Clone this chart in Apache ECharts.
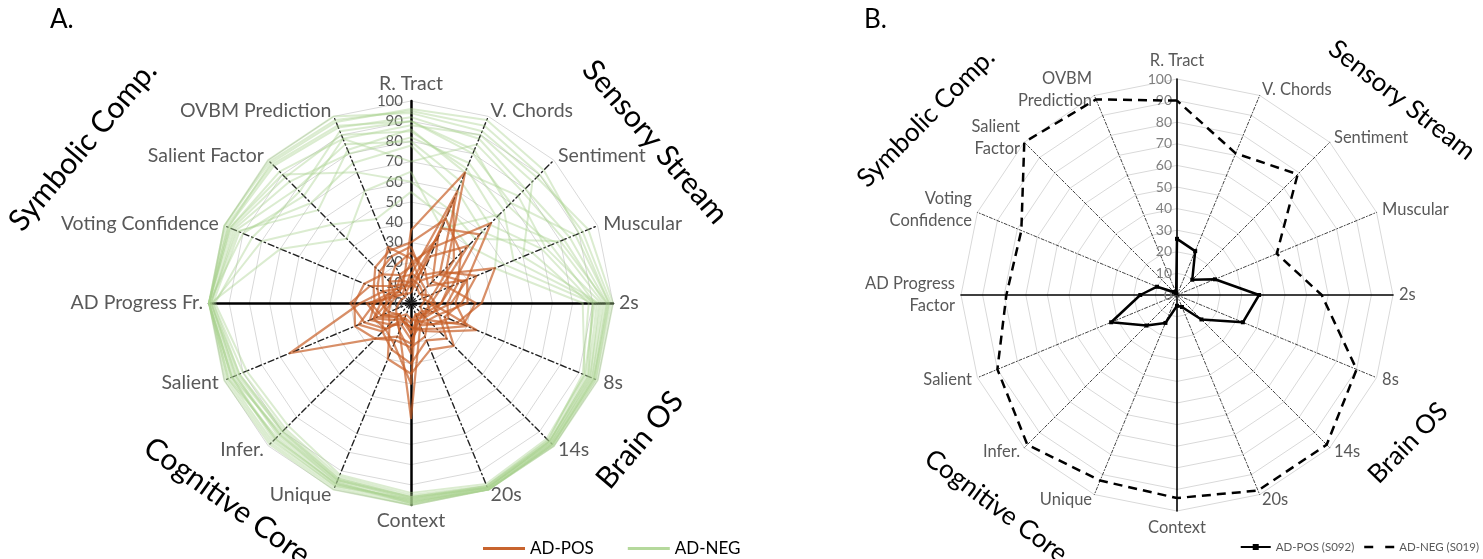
<!DOCTYPE html>
<html>
<head>
<meta charset="utf-8">
<script src="https://cdn.jsdelivr.net/npm/echarts@6/dist/echarts.min.js"></script>
<style>
  html, body { margin: 0; padding: 0; background: #fff; }
  #main { width: 1483px; height: 559px; }
</style>
</head>
<body>
<div id="main"></div>
<script>
// axes, clockwise from the top
const axesA = ['R. Tract', 'V. Chords', 'Sentiment', 'Muscular', '2s', '8s', '14s', '20s',
  'Context', 'Unique', 'Infer.', 'Salient', 'AD Progress Fr.', 'Voting Confidence', 'Salient Factor', 'OVBM Prediction']
const axesB = ['R. Tract', 'V. Chords', 'Sentiment', 'Muscular', '2s', '8s', '14s', '20s',
  'Context', 'Unique', 'Infer.', 'Salient', 'AD Progress\nFactor', 'Voting\nConfidence', 'Salient\nFactor', 'OVBM\nPrediction']
const tickValues = [0, 10, 20, 30, 40, 50, 60, 70, 80, 90, 100]

// A. AD-NEG subjects (same axis order)
const negA = [
  [92, 88, 80, 85, 97, 98, 99, 100, 98, 97, 95, 97, 100, 98, 96, 94],
  [85, 72, 60, 78, 95, 97, 98, 99, 99, 96, 92, 95, 100, 96, 88, 90],
  [95, 95, 90, 92, 99, 99, 100, 100, 100, 99, 98, 99, 100, 100, 99, 98],
  [80, 65, 55, 70, 90, 94, 97, 98, 96, 95, 90, 93, 99, 94, 80, 85],
  [88, 90, 85, 60, 93, 96, 98, 99, 97, 98, 96, 96, 100, 97, 92, 88],
  [90, 80, 70, 88, 98, 99, 99, 100, 99, 97, 94, 98, 100, 99, 97, 95],
  [78, 60, 50, 65, 88, 92, 96, 98, 95, 93, 88, 90, 98, 92, 70, 75],
  [94, 92, 88, 95, 100, 100, 100, 100, 100, 100, 99, 100, 100, 100, 100, 100],
  [82, 75, 65, 55, 92, 95, 97, 99, 98, 96, 93, 94, 99, 95, 85, 80],
  [70, 85, 78, 82, 96, 97, 98, 99, 97, 95, 91, 96, 100, 90, 75, 88],
  [96, 98, 93, 90, 98, 98, 99, 100, 99, 98, 97, 98, 100, 98, 98, 97],
  [86, 70, 75, 72, 94, 96, 97, 99, 96, 94, 89, 92, 99, 93, 65, 82],
  [60, 50, 45, 80, 97, 98, 99, 100, 98, 97, 95, 96, 100, 97, 90, 70],
  [90, 82, 68, 75, 91, 93, 95, 97, 94, 92, 86, 88, 97, 85, 78, 92],
  [55, 45, 40, 50, 90, 95, 97, 99, 96, 94, 90, 92, 98, 80, 55, 45],
  [65, 40, 62, 45, 85, 93, 96, 98, 97, 95, 92, 94, 99, 70, 45, 60]
]
// A. AD-POS subjects
const posA = [
  [36, 70, 25, 20, 15, 10, 8, 6, 10, 8, 12, 20, 15, 12, 8, 10],
  [20, 30, 56, 30, 20, 12, 10, 8, 15, 10, 8, 12, 10, 8, 15, 12],
  [15, 12, 20, 45, 35, 25, 15, 10, 8, 6, 10, 15, 12, 10, 6, 8],
  [10, 8, 6, 10, 12, 8, 10, 12, 57, 15, 10, 8, 6, 5, 4, 6],
  [12, 10, 8, 6, 10, 15, 12, 10, 20, 18, 25, 65, 25, 15, 10, 8],
  [30, 45, 35, 25, 18, 20, 15, 12, 18, 12, 15, 22, 18, 20, 25, 28],
  [8, 25, 40, 15, 10, 35, 20, 15, 12, 10, 18, 25, 30, 22, 12, 10],
  [25, 18, 12, 30, 28, 15, 25, 20, 30, 25, 20, 15, 10, 12, 15, 20],
  [5, 55, 30, 12, 8, 10, 6, 8, 25, 15, 10, 18, 22, 8, 6, 5],
  [18, 35, 15, 20, 32, 28, 12, 18, 22, 20, 25, 30, 28, 25, 20, 15],
  [28, 15, 22, 35, 25, 18, 30, 25, 35, 30, 15, 12, 15, 18, 22, 25],
  [10, 40, 48, 22, 15, 12, 8, 10, 15, 8, 20, 28, 18, 10, 8, 12],
  [22, 12, 10, 8, 6, 5, 10, 6, 40, 22, 18, 20, 12, 15, 20, 30],
  [14, 60, 20, 28, 22, 30, 18, 14, 12, 10, 8, 16, 20, 12, 10, 14]
]
// B. single subjects
const posB = [26, 22, 10, 19, 38, 33, 16, 6, 5, 14, 20, 33, 17, 10, 2, 1]
const negB = [90, 71, 79, 50, 67, 90, 98, 98, 94, 93, 98, 90, 79, 78, 100, 98]

const FONT = 'Lato, "Open Sans", sans-serif'

// radar runs counter-clockwise, so flip the order after the first axis
function toCCW(arr) {
  return [arr[0]].concat(arr.slice(1).reverse())
}

function buildIndicators(names, solidLine, dashLine, label) {
  const list = names.map(function (n, i) {
    return {
      name: n,
      min: 0,
      max: 100,
      axisLine: { show: true, lineStyle: i % 4 === 0 ? solidLine : dashLine },
      axisLabel: i === 0 ? label : { show: false }
    }
  })
  return toCCW(list)
}

const chartDom = document.getElementById('main')
const myChart = echarts.init(chartDom)
var option

option = {
  animation: false,
  textStyle: { fontFamily: FONT },
  radar: [
    {
      center: [411, 303],
      radius: 202,
      startAngle: 90,
      shape: 'polygon',
      splitNumber: 10,
      axisNameGap: 6,
      axisName: { color: '#595959', fontSize: 19.5, fontFamily: FONT },
      splitLine: { lineStyle: { color: '#d9d9d9', width: 1 } },
      splitArea: { show: false },
      indicator: buildIndicators(
        axesA,
        { color: '#000', width: 2.5, type: 'solid' },
        { color: '#222', width: 1.4, type: [6, 3, 1.5, 3] },
        { show: true, color: '#595959', fontSize: 15, margin: 8, fontFamily: FONT,
          customValues: tickValues }
      )
    },
    {
      center: [1177, 295],
      radius: 216,
      startAngle: 90,
      shape: 'polygon',
      splitNumber: 10,
      axisNameGap: 6,
      axisName: { color: '#595959', fontSize: 16.5, fontFamily: FONT, lineHeight: 22 },
      splitLine: { lineStyle: { color: '#d9d9d9', width: 1 } },
      splitArea: { show: false },
      indicator: buildIndicators(
        axesB,
        { color: '#000', width: 1.6, type: 'solid' },
        { color: '#444', width: 1, type: [3, 2, 1, 2] },
        { show: true, color: '#7f7f7f', fontSize: 14, margin: 5, fontFamily: FONT,
          customValues: tickValues }
      )
    }
  ],
  legend: [
    {
      left: 478,
      top: 535,
      itemGap: 34,
      itemWidth: 42,
      itemHeight: 3,
      icon: 'rect',
      textStyle: { color: '#000', fontSize: 17, fontFamily: FONT },
      data: ['AD-POS', 'AD-NEG']
    },
    {
      right: 4,
      top: 541,
      padding: 0,
      itemGap: 10,
      itemWidth: 30,
      itemHeight: 8,
      textStyle: { color: '#595959', fontSize: 11.5, fontFamily: FONT },
      data: [
        { name: 'AD-POS (S092)', icon: 'path://M0,3h30v2h-30z M12,1h6v6h-6z',
          itemStyle: { color: '#000' } },
        { name: 'AD-NEG (S019)', icon: 'path://M0,3h9v2.4h-9z M21,3h9v2.4h-9z',
          itemStyle: { color: '#000' } }
      ]
    }
  ],
  graphic: [
    { type: 'text', x: 50, y: 7, style: { text: 'A.', font: '26px ' + FONT, fill: '#000' } },
    { type: 'text', x: 864, y: 7, style: { text: 'B.', font: '26px ' + FONT, fill: '#000' } },
    { type: 'text', x: 83, y: 146, rotation: 0.87,
      style: { text: 'Symbolic Comp.', font: '30px ' + FONT, fill: '#000', align: 'center', verticalAlign: 'middle' } },
    { type: 'text', x: 655, y: 142, rotation: -0.86,
      style: { text: 'Sensory Stream', font: '30px ' + FONT, fill: '#000', align: 'center', verticalAlign: 'middle' } },
    { type: 'text', x: 640, y: 440, rotation: 0.87,
      style: { text: 'Brain OS', font: '30px ' + FONT, fill: '#000', align: 'center', verticalAlign: 'middle' } },
    { type: 'text', x: 227, y: 501, rotation: -0.62,
      style: { text: 'Cognitive Core', font: '30px ' + FONT, fill: '#000', align: 'center', verticalAlign: 'middle' } },
    { type: 'text', x: 926, y: 118, rotation: 0.79,
      style: { text: 'Symbolic Comp.', font: '26px ' + FONT, fill: '#000', align: 'center', verticalAlign: 'middle' } },
    { type: 'text', x: 1402, y: 100, rotation: -0.66,
      style: { text: 'Sensory Stream', font: '26px ' + FONT, fill: '#000', align: 'center', verticalAlign: 'middle' } },
    { type: 'text', x: 1408, y: 443, rotation: 0.8,
      style: { text: 'Brain OS', font: '26px ' + FONT, fill: '#000', align: 'center', verticalAlign: 'middle' } },
    { type: 'text', x: 996, y: 506, rotation: -0.64,
      style: { text: 'Cognitive Core', font: '26px ' + FONT, fill: '#000', align: 'center', verticalAlign: 'middle' } }
  ],
  series: [
    {
      name: 'AD-NEG',
      type: 'radar',
      radarIndex: 0,
      symbol: 'none',
      z: 1,
      itemStyle: { color: '#b5d99c' },
      lineStyle: { color: 'rgba(169, 209, 142, 0.42)', width: 2 },
      data: negA.map(function (row) { return { name: 'AD-NEG', value: toCCW(row) } })
    },
    {
      name: 'AD-POS',
      type: 'radar',
      radarIndex: 0,
      symbol: 'none',
      z: 3,
      itemStyle: { color: '#c8642e' },
      lineStyle: { color: 'rgba(200, 95, 40, 0.7)', width: 2.2 },
      data: posA.map(function (row) { return { name: 'AD-POS', value: toCCW(row) } })
    },
    {
      name: 'AD-POS (S092)',
      type: 'radar',
      radarIndex: 1,
      symbol: 'rect',
      symbolSize: 4,
      z: 3,
      itemStyle: { color: '#000' },
      lineStyle: { color: '#000', width: 2.5 },
      data: [{ name: 'AD-POS (S092)', value: toCCW(posB) }]
    },
    {
      name: 'AD-NEG (S019)',
      type: 'radar',
      radarIndex: 1,
      symbol: 'none',
      z: 3,
      itemStyle: { color: '#000' },
      lineStyle: { color: '#000', width: 2.5, type: [9, 6] },
      data: [{ name: 'AD-NEG (S019)', value: toCCW(negB) }]
    }
  ]
}
option && myChart.setOption(option)
</script>
</body>
</html>
